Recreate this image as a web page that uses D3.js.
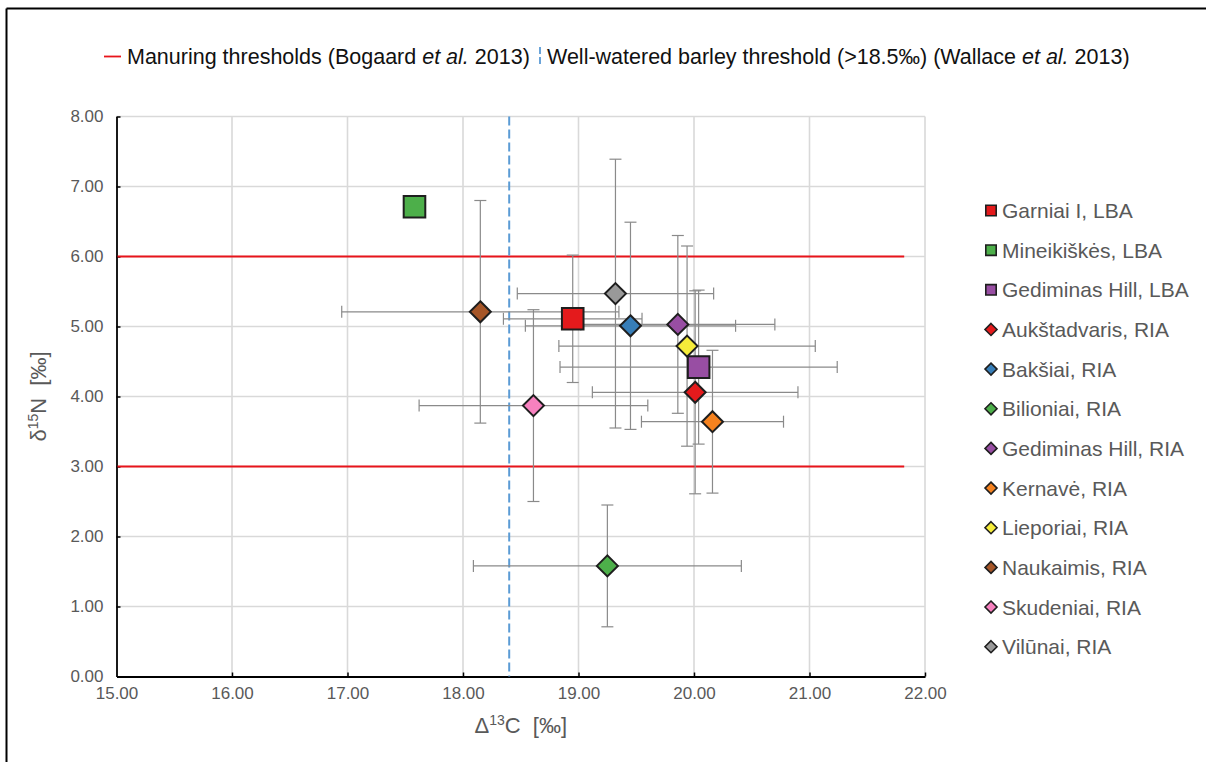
<!DOCTYPE html>
<html><head><meta charset="utf-8">
<script src="https://cdn.jsdelivr.net/npm/d3@7"></script>
<style>body{margin:0;background:#fff}svg{display:block;font-family:"Liberation Sans",Arial,sans-serif}</style>
</head><body><svg id="c" width="1206" height="762"></svg>
<script>
const sites = ["Garniai I, LBA","Mineikiškės, LBA","Gediminas Hill, LBA","Aukštadvaris, RIA","Bakšiai, RIA","Bilioniai, RIA","Gediminas Hill, RIA","Kernavė, RIA","Lieporiai, RIA","Naukaimis, RIA","Skudeniai, RIA","Vilūnai, RIA"];
const shapes = ["square","square","square","diamond","diamond","diamond","diamond","diamond","diamond","diamond","diamond","diamond"];
const colors = ["#E41A1C","#4DAF4A","#984EA3","#E41A1C","#377EB8","#4DAF4A","#984EA3","#F5821F","#F5EC3A","#A65628","#F781BF","#999999"];
const d13C = [18.95,17.58,20.04,20.01,19.45,19.25,19.86,20.16,19.94,18.15,18.61,19.32];
const d15N = [5.11,6.71,4.42,4.06,5.01,1.58,5.03,3.64,4.72,5.21,3.87,5.47];
const errC = [0.60,0,1.20,0.89,0.91,1.16,0.84,0.615,1.11,1.20,0.99,0.85];
const errN = [0.91,0,1.10,1.45,1.48,0.87,1.27,1.02,1.43,1.59,1.37,1.92];
const xTicks = [15,16,17,18,19,20,21,22];
const yTicks = [0,1,2,3,4,5,6,7,8];
const manuring = [3,6];
const manuringXEnd = 21.82;
const wateredThreshold = 18.4;

const svg = d3.select("#c");
const x = d3.scaleLinear().domain([15,22]).range([116.5,925]);
const y = d3.scaleLinear().domain([0,8]).range([676.5,116.5]);

// outer frame (top and left visible)
svg.append("line").attr("x1",6.5).attr("x2",1206).attr("y1",8.5).attr("y2",8.5).attr("stroke","#000").attr("stroke-width",2);
svg.append("line").attr("x1",6.5).attr("x2",6.5).attr("y1",8.5).attr("y2",762).attr("stroke","#000").attr("stroke-width",2);

// grid
const g = svg.append("g");
g.selectAll(".gx").data(xTicks.slice(1)).join("line")
  .attr("x1",d=>x(d)).attr("x2",d=>x(d)).attr("y1",y(8)).attr("y2",y(0))
  .attr("stroke","#d9d9d9").attr("stroke-width",1.6);
g.selectAll(".gy").data(yTicks.slice(1)).join("line")
  .attr("x1",x(15)).attr("x2",x(22)).attr("y1",d=>y(d)).attr("y2",d=>y(d))
  .attr("stroke","#d9d9d9").attr("stroke-width",1.6);

// axes
const xAxis = d3.axisBottom(x).tickValues(xTicks).tickFormat(d3.format(".2f")).tickSizeInner(-4).tickSizeOuter(0).tickPadding(10);
const yAxis = d3.axisLeft(y).tickValues(yTicks).tickFormat(d3.format(".2f")).tickSizeInner(-4).tickSizeOuter(0).tickPadding(13);
const gx = svg.append("g").attr("transform",`translate(0,${y(0)})`).call(xAxis);
const gy = svg.append("g").attr("transform",`translate(${x(15)},0)`).call(yAxis);
[gx,gy].forEach(a=>{
  a.attr("font-size",17).attr("font-family","Liberation Sans, Arial, sans-serif");
  a.select(".domain").attr("stroke","#000").attr("stroke-width",1.8);
  a.selectAll(".tick line").attr("stroke","#000").attr("stroke-width",1.5);
  a.selectAll(".tick text").attr("fill","#595959");
});
gy.selectAll(".tick").filter(d=>d===0).select("line").remove();
gx.selectAll(".tick").filter(d=>d===15).select("line").remove();

// threshold lines
svg.selectAll(".man").data(manuring).join("line")
  .attr("x1",x(15)+1).attr("x2",x(manuringXEnd)).attr("y1",d=>y(d)).attr("y2",d=>y(d))
  .attr("stroke","#E8141B").attr("stroke-width",2);
svg.append("line").attr("x1",x(wateredThreshold)).attr("x2",x(wateredThreshold)).attr("y1",y(8)).attr("y2",y(0))
  .attr("stroke","#5B9BD5").attr("stroke-width",2).attr("stroke-dasharray","9,4");

// error bars
const idx = d3.range(sites.length).filter(i=>errC[i]>0||errN[i]>0);
const eb = svg.append("g").attr("stroke","#8a8a8a").attr("stroke-width",1.2).attr("fill","none");
const cap = 6;
idx.forEach(i=>{
  const cx=x(d13C[i]), cy=y(d15N[i]);
  const x0=x(d13C[i]-errC[i]), x1=x(d13C[i]+errC[i]);
  const y0=y(d15N[i]-errN[i]), y1=y(d15N[i]+errN[i]);
  eb.append("line").attr("x1",x0).attr("x2",x1).attr("y1",cy).attr("y2",cy);
  eb.append("line").attr("x1",x0).attr("x2",x0).attr("y1",cy-cap).attr("y2",cy+cap);
  eb.append("line").attr("x1",x1).attr("x2",x1).attr("y1",cy-cap).attr("y2",cy+cap);
  eb.append("line").attr("x1",cx).attr("x2",cx).attr("y1",y0).attr("y2",y1);
  eb.append("line").attr("x1",cx-cap).attr("x2",cx+cap).attr("y1",y0).attr("y2",y0);
  eb.append("line").attr("x1",cx-cap).attr("x2",cx+cap).attr("y1",y1).attr("y2",y1);
});

// markers
function markerPath(shape, s){
  if(shape==="square") return `M${-s},${-s}H${s}V${s}H${-s}Z`;
  return `M0,${-s}L${s},0L0,${s}L${-s},0Z`;
}
svg.append("g").selectAll("path").data(d3.range(sites.length)).join("path")
  .attr("transform",i=>`translate(${x(d13C[i])},${y(d15N[i])})`)
  .attr("d",i=>markerPath(shapes[i], shapes[i]==="square"?10.8:10.5))
  .attr("fill",i=>colors[i]).attr("stroke","#1e1e1e").attr("stroke-width",2).attr("stroke-linejoin","miter");

// right legend
const lg = svg.append("g");
const ly = d3.scaleLinear().domain([0,11]).range([210.5,646.7]);
d3.range(sites.length).forEach(i=>{
  const row = lg.append("g").attr("transform",`translate(991,${ly(i)})`);
  row.append("path").attr("d",markerPath(shapes[i], shapes[i]==="square"?5.2:6))
    .attr("fill",colors[i]).attr("stroke","#1e1e1e").attr("stroke-width",1.6);
  row.append("text").attr("x",11).attr("y",0).attr("dy","0.36em")
    .attr("fill","#595959").style("font-size","21px").text(sites[i]);
});

// top legend
svg.append("line").attr("x1",104).attr("x2",121).attr("y1",56.5).attr("y2",56.5).attr("stroke","#E8141B").attr("stroke-width",1.8);
const t1 = svg.append("text").attr("x",127).attr("y",63.5).attr("fill","#111").style("font-size","21.5px");
t1.append("tspan").text("Manuring thresholds (Bogaard ");
t1.append("tspan").attr("font-style","italic").text("et al.");
t1.append("tspan").text(" 2013)");
svg.append("line").attr("x1",540).attr("x2",540).attr("y1",47).attr("y2",64).attr("stroke","#5B9BD5").attr("stroke-width",1.8).attr("stroke-dasharray","7,3");
const t2 = svg.append("text").attr("x",547).attr("y",63.5).attr("fill","#111").style("font-size","21.5px");
t2.append("tspan").text("Well-watered barley threshold (>18.5‰) (Wallace ");
t2.append("tspan").attr("font-style","italic").text("et al.");
t2.append("tspan").text(" 2013)");

// axis titles
const xt = svg.append("text").attr("x",(x(15)+x(22))/2).attr("y",733).attr("text-anchor","middle").attr("fill","#595959").style("font-size","22px").style("white-space","pre");
xt.append("tspan").text("Δ");
xt.append("tspan").attr("font-size","14px").attr("dy","-8").text("13");
xt.append("tspan").attr("dy","8").text("C  [‰]");
const yt = svg.append("text").attr("transform",`translate(46,${(y(0)+y(8))/2}) rotate(-90)`).attr("text-anchor","middle").attr("fill","#595959").style("font-size","22px").style("white-space","pre");
yt.append("tspan").text("δ");
yt.append("tspan").attr("font-size","14px").attr("dy","-8").text("15");
yt.append("tspan").attr("dy","8").text("N  [‰]");
</script></body></html>
